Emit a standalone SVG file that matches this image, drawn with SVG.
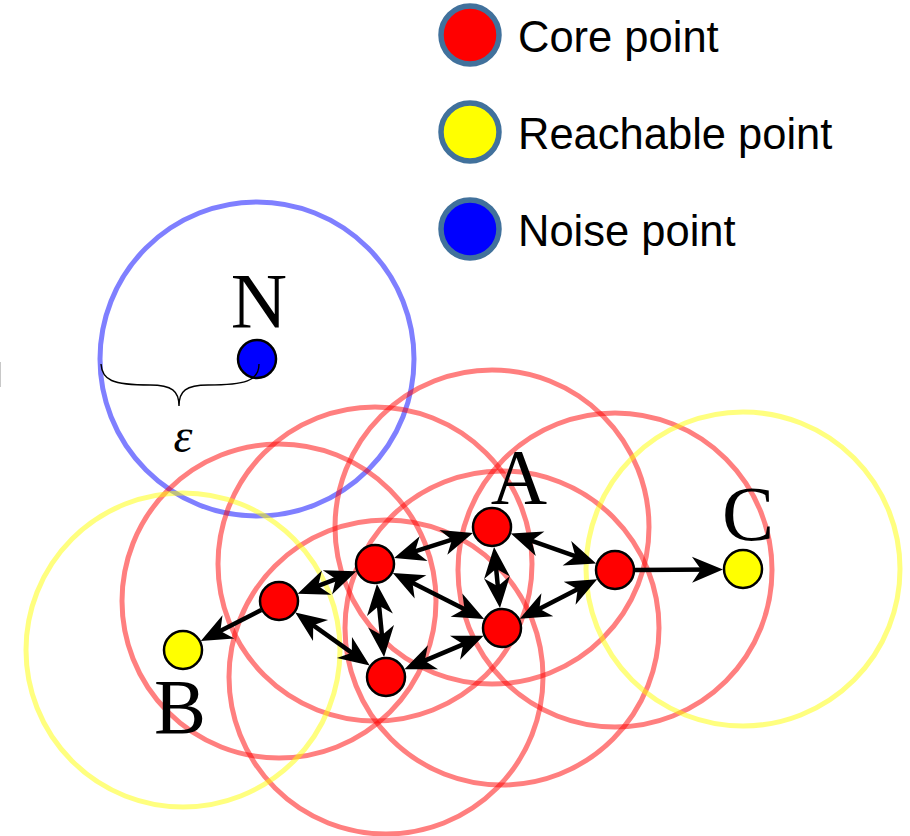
<svg xmlns="http://www.w3.org/2000/svg" width="910" height="836" viewBox="0 0 910 836">
<defs>
<style>
.rng{fill:none;stroke-width:5}
.rr{stroke:#ff0000;stroke-opacity:0.5}
.ry{stroke:#ffff00;stroke-opacity:0.5}
.rb{stroke:#0000ff;stroke-opacity:0.5}
.dot{stroke:#000;stroke-width:2.5}
.core{fill:#ff0000}
.reach{fill:#ffff00}
.noise{fill:#0000ff}
.leg{stroke:#41719c;stroke-width:5.5}
.lbl{font-family:"Liberation Serif","Times New Roman",serif;font-size:78px;fill:#000;text-anchor:middle}
.ltxt{font-family:"Liberation Sans",Arial,sans-serif;font-size:43.5px;fill:#000}
.edge{stroke:#000;stroke-width:4.5;fill:none}
</style>
<marker id="ah" viewBox="-26 -14 36 28" refX="0" refY="0" markerWidth="36" markerHeight="28" markerUnits="userSpaceOnUse" orient="auto-start-reverse">
<path d="M8,0 L-23,-13 L-14,0 L-23,13 z" fill="#000"/>
</marker>
</defs>
<rect width="910" height="836" fill="#fff"/>
<line x1="0.5" y1="362" x2="0.5" y2="387" stroke="#c8c8c8" stroke-width="1"/>

<g id="ranges">
<circle class="rng rb" cx="257" cy="359" r="157"/>
<circle class="rng rr" cx="279" cy="601" r="157"/>
<circle class="rng rr" cx="375" cy="564" r="157"/>
<circle class="rng rr" cx="492" cy="527" r="157"/>
<circle class="rng rr" cx="386" cy="677" r="157"/>
<circle class="rng rr" cx="502" cy="628" r="157"/>
<circle class="rng rr" cx="615" cy="570" r="157"/>
<circle class="rng ry" cx="183" cy="650" r="157"/>
<circle class="rng ry" cx="743" cy="569" r="157"/>
</g>

<g id="connectors">
<line class="edge" x1="305.1" y1="590.9" x2="348.9" y2="574.1" marker-start="url(#ah)" marker-end="url(#ah)"/>
<line class="edge" x1="401.7" y1="555.6" x2="465.3" y2="535.4" marker-start="url(#ah)" marker-end="url(#ah)"/>
<line class="edge" x1="494.8" y1="554.9" x2="499.2" y2="600.1" marker-start="url(#ah)" marker-end="url(#ah)"/>
<line class="edge" x1="518.4" y1="536.2" x2="588.6" y2="560.8" marker-start="url(#ah)" marker-end="url(#ah)"/>
<line class="edge" x1="400" y1="576.6" x2="477" y2="615.4" marker-start="url(#ah)" marker-end="url(#ah)"/>
<line class="edge" x1="377.7" y1="591.9" x2="383.3" y2="649.1" marker-start="url(#ah)" marker-end="url(#ah)"/>
<line class="edge" x1="301.8" y1="617.2" x2="363.2" y2="660.8" marker-start="url(#ah)" marker-end="url(#ah)"/>
<line class="edge" x1="411.8" y1="666.1" x2="476.2" y2="638.9" marker-start="url(#ah)" marker-end="url(#ah)"/>
<line class="edge" x1="526.9" y1="615.2" x2="590.1" y2="582.8" marker-start="url(#ah)" marker-end="url(#ah)"/>
<line class="edge" x1="261.2" y1="610.1" x2="207.9" y2="637.3" marker-end="url(#ah)"/>
<line class="edge" x1="635" y1="570" x2="715" y2="569.5" marker-end="url(#ah)"/>
</g>

<g id="node-p1"><circle class="dot core" cx="279" cy="601" r="19"/></g>
<g id="node-p2"><circle class="dot core" cx="375" cy="564" r="19"/></g>
<g id="node-A"><circle class="dot core" cx="492" cy="527" r="19"/><text class="lbl" x="519" y="503">A</text></g>
<g id="node-p4"><circle class="dot core" cx="386" cy="677" r="19"/></g>
<g id="node-p5"><circle class="dot core" cx="502" cy="628" r="19"/></g>
<g id="node-p6"><circle class="dot core" cx="615" cy="570" r="19"/></g>
<g id="node-B"><circle class="dot reach" cx="183" cy="650" r="19"/><text class="lbl" x="180" y="733">B</text></g>
<g id="node-C"><circle class="dot reach" cx="743" cy="569" r="19"/><text class="lbl" x="748" y="540">C</text></g>
<g id="node-N"><circle class="dot noise" cx="257" cy="359" r="19"/><text class="lbl" x="259" y="327">N</text>
<path d="M101,364 C102,380 112,385 150,385 C172,385 179,391 179,406 C179,391 186,385 208,385 C245,385 259,381 259,364" fill="none" stroke="#000" stroke-width="1.4"/>
<text x="183" y="452" font-family="'Liberation Serif','Times New Roman',serif" font-style="italic" font-size="48" text-anchor="middle">ε</text>
</g>

<g id="legend">
<g id="legend-core"><circle class="leg core" cx="470" cy="35" r="29"/><text class="ltxt" x="518" y="52">Core point</text></g>
<g id="legend-reach"><circle class="leg reach" cx="470" cy="132" r="29"/><text class="ltxt" x="518" y="149">Reachable point</text></g>
<g id="legend-noise"><circle class="leg noise" cx="470" cy="229" r="29"/><text class="ltxt" x="518" y="246">Noise point</text></g>
</g>
</svg>
